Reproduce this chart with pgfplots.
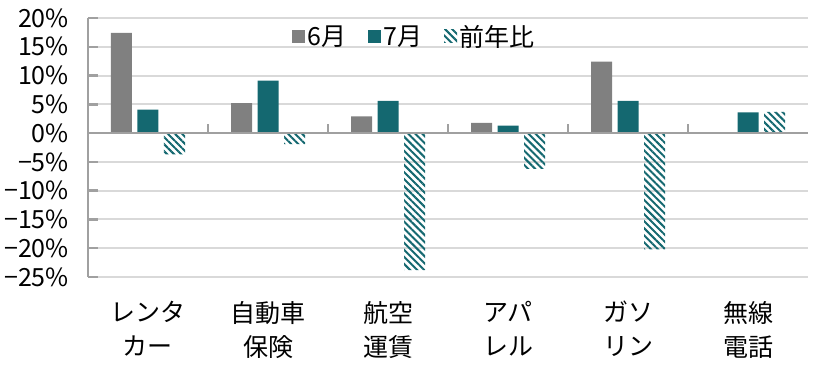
\documentclass[border=0pt]{standalone}
\usepackage{pgfplots}
\pgfplotsset{compat=1.18}
\usepackage{fontspec}
\setmainfont{Noto Sans CJK JP}
\usetikzlibrary{patterns.meta}
\definecolor{jun}{RGB}{128,128,128}
\definecolor{jul}{RGB}{20,104,112}
\definecolor{gridc}{RGB}{217,217,217}
\definecolor{axc}{RGB}{160,160,160}
\begin{document}
\begin{tikzpicture}
\begin{axis}[
  scale only axis, width=720bp, height=259bp,
  xmin=-0.5, xmax=5.5, ymin=-25, ymax=20,
  axis lines*=left,
  x axis line style={draw=none},
  y axis line style={axc, line width=2.5bp},
  ytick={-25,-20,-15,-10,-5,0,5,10,15,20},
  yticklabels={−25\%,−20\%,−15\%,−10\%,−5\%,0\%,5\%,10\%,15\%,20\%},
  ymajorgrids, grid style={gridc, line width=2bp},
  tick align=inside, major tick length=10bp,
  ytick style={axc, line width=2.5bp},
  xtick={0,1,2,3,4,5},
  xtick style={draw=none},
  xticklabels={{レンタ\\カー},{自動車\\保険},{航空\\運賃},{アパ\\レル},{ガソ\\リン},{無線\\電話}},
  yticklabel style={font=\fontsize{25bp}{30bp}\selectfont, inner sep=0pt, xshift=-19bp},
  xticklabel style={font=\fontsize{25bp}{34bp}\selectfont, align=center, inner sep=0pt, yshift=-24bp},
  legend image code/.code={\path[#1,draw=none] (0bp,-6bp) rectangle (13bp,7bp);},
  legend style={at={(0.453,0.927)}, anchor=center, draw=none, fill=none,
    font=\fontsize{25bp}{30bp}\selectfont,
    /tikz/every even column/.append style={column sep=20bp}},
  legend columns=3,
  clip=false,
]
\addplot[ybar, bar width=21bp, bar shift=-26.5bp, fill=jun, draw=none]
  coordinates {(0,17.4) (1,5.2) (2,2.9) (3,1.8) (4,12.4)};
\addlegendentry{6月}
\addplot[ybar, bar width=21bp, bar shift=0bp, fill=jul, draw=none]
  coordinates {(0,4.1) (1,9.1) (2,5.6) (3,1.3) (4,5.6) (5,3.6)};
\addlegendentry{7月}
\addplot[ybar, bar width=21bp, bar shift=26.5bp, draw=none,
  pattern={Lines[angle=-45, distance=5bp, line width=2bp]}, pattern color=jul]
  coordinates {(0,-3.7) (1,-1.9) (2,-23.8) (3,-6.2) (4,-20.2) (5,3.7)};
\addlegendentry{前年比}
\draw[axc, line width=2.5bp] (axis cs:-0.5,0) -- (axis cs:5.5,0);
\draw[axc, line width=2.5bp] (axis cs:0.5,0) -- (axis cs:0.5,1.6);
\draw[axc, line width=2.5bp] (axis cs:1.5,0) -- (axis cs:1.5,1.6);
\draw[axc, line width=2.5bp] (axis cs:2.5,0) -- (axis cs:2.5,1.6);
\draw[axc, line width=2.5bp] (axis cs:3.5,0) -- (axis cs:3.5,1.6);
\draw[axc, line width=2.5bp] (axis cs:4.5,0) -- (axis cs:4.5,1.6);
\end{axis}
\pgfresetboundingbox
\path (current axis.south west) ++(-88bp,-92bp) rectangle ++(814bp,369bp);
\end{tikzpicture}
\end{document}
